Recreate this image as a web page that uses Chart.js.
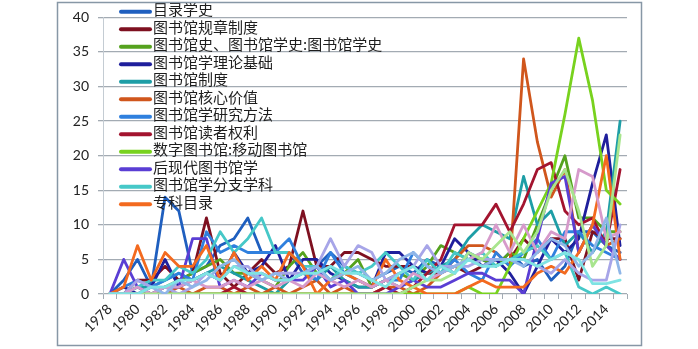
<!DOCTYPE html>
<html>
<head>
<meta charset="utf-8">
<script src="https://cdn.jsdelivr.net/npm/chart.js@4/dist/chart.umd.min.js"></script>
<style>
  html, body { margin: 0; padding: 0; background: #fff; }
  #wrap { position: relative; width: 698px; height: 349px; }
</style>
</head>
<body>
<div id="wrap"><canvas id="c" width="698" height="349"></canvas></div>
<script>
// Publication years (x axis categories)
const years = [1978,1979,1980,1981,1982,1983,1984,1985,1986,1987,
               1988,1989,1990,1991,1992,1993,1994,1995,1996,1997,
               1998,1999,2000,2001,2002,2003,2004,2005,2006,2007,
               2008,2009,2010,2011,2012,2013,2014,2015];

// Article counts per topic, one value per year
const muluxueshi   = [0,2,5,1,14,12,3,4,7,8, 11,6,6,6,3,4,6,4,3,2, 3,4,3,5,4,3,6,5,4,6, 4,5,2,4,9,9,7,6];
const guizhangzhidu= [0,0,2,2,4,2,3,11,3,1, 3,5,3,4,12,4,4,6,6,5, 4,4,4,3,3,4,3,4,5,5, 8,6,8,8,2,9,8,8];
const tushuguanshi = [0,0,1,0,1,2,3,4,5,3, 3,2,1,4,6,3,2,3,5,1, 2,3,2,4,7,6,5,5,4,6, 5,10,15,20,11,11,9,9];
const lilunjichu   = [0,1,0,1,5,1,2,3,2,6, 3,4,7,2,5,5,3,2,1,1, 6,6,4,3,4,8,6,4,5,3, 0,4,8,6,8,16,23,7];
const tushuguanzhidu=[0,0,1,1,2,3,2,3,4,3, 2,1,0,2,3,2,4,2,1,1, 2,1,2,3,4,5,8,10,9,8, 17,10,12,7,9,6,9,25];
const hexinjiazhi  = [0,0,0,0,0,1,0,1,1,0, 1,0,1,0,1,2,0,1,0,0, 1,1,0,1,3,5,7,7,6,4, 34,22,14,18,6,10,7,8];
const yanjiufangfa = [0,1,2,1,2,3,2,9,6,7, 6,6,6,8,4,2,6,3,2,1, 2,2,6,4,3,5,3,2,6,4, 6,8,5,9,9,7,6,5];
const duzhequanli  = [0,0,0,0,0,0,0,0,0,1, 0,0,0,0,0,0,0,0,0,0, 1,0,1,3,5,10,10,10,13,9, 13,18,19,12,10,11,7,18];
const shuzitushuguan=[0,0,0,0,0,0,0,0,0,0, 0,0,0,0,0,0,0,0,0,0, 0,0,0,0,0,0,1,0,0,4, 8,12,16,26,37,28,15,13];
const houxiandai    = [0,5,1,0,1,1,8,8,1,2, 1,3,2,2,2,4,1,2,0,0, 0,1,2,1,1,2,3,3,2,2, 0,8,16,17,6,10,7,5];
const fenzhixueke   = [0,0,1,2,2,4,3,5,9,6, 8,11,6,6,4,4,2,4,3,4, 6,4,2,5,3,6,5,6,4,5, 6,7,5,6,1,0,1,0];
const zhuankemulu   = [0,1,7,2,6,4,4,7,2,6, 2,4,2,6,4,0,2,3,2,1, 5,2,1,0,0,0,1,2,1,1, 1,3,4,3,6,10,20,5];
const series13      = [0,0,2,1,1,0,1,3,2,4, 4,2,3,3,3,4,8,4,7,6, 2,3,4,7,4,4,4,5,5,5, 5,4,3,5,3,2,2,10];
const series14      = [0,0,1,0,1,1,2,1,1,2, 1,2,1,2,1,3,2,1,2,1, 2,1,3,2,3,4,5,6,10,6, 10,6,9,8,18,17,8,9];
const series15      = [0,0,0,0,0,0,0,0,0,0, 0,0,0,0,0,0,0,0,0,0, 0,0,1,2,2,3,6,5,7,9, 6,9,15,18,12,4,7,23];
const series16      = [0,0,0,1,0,2,1,2,4,5, 3,2,3,2,3,4,2,3,4,2, 3,5,6,4,3,4,5,4,5,5, 4,6,8,7,4,6,11,3];
const series17      = [0,0,0,1,1,2,2,3,2,4, 3,3,2,2,3,3,4,3,3,2, 1,3,4,2,4,3,5,4,4,5, 5,4,5,6,5,1.5,1.5,2];

const seriesNames = ['目录学史','图书馆规章制度','图书馆史、图书馆学史:图书馆学史','图书馆学理论基础',
  '图书馆制度','图书馆核心价值','图书馆学研究方法','图书馆读者权利','数字图书馆:移动图书馆',
  '后现代图书馆学','图书馆学分支学科','专科目录','系列13','系列14','系列15','系列16','系列17'];
const seriesValues = [muluxueshi, guizhangzhidu, tushuguanshi, lilunjichu, tushuguanzhidu,
  hexinjiazhi, yanjiufangfa, duzhequanli, shuzitushuguan, houxiandai, fenzhixueke, zhuankemulu,
  series13, series14, series15, series16, series17];
const palette = ['#1f5fbf','#7e1020','#55a21e','#1f1f9c','#1e9ea6','#d0561c','#2f80de','#a3142f',
  '#78d21e','#5a3ed4','#46c8c8','#f36a1f','#a7a5e8','#d69acb','#a8e58e','#8fb6e8','#7fe3e3'];
const legendCount = 12;

const n = seriesValues.length;
const datasets = seriesValues.map((vals, i) => ({
  label: seriesNames[i],
  data: vals,
  borderColor: palette[i],
  backgroundColor: palette[i],
  order: n - i            // later series painted above earlier ones
}));

const FONT = 'Lato, "Open Sans", sans-serif';

// White page with a thin frame around the whole chart
const framePlugin = {
  id: 'frame',
  beforeDraw(chart) {
    const c = chart.ctx;
    c.save();
    c.fillStyle = '#ffffff';
    c.fillRect(0, 0, chart.width, chart.height);
    c.restore();
  },
  afterDraw(chart) {
    const c = chart.ctx;
    c.save();
    c.strokeStyle = '#8797a6';
    c.lineWidth = 1.5;
    c.strokeRect(57.5, 2.5, 584, 343);
    c.restore();
  }
};

// Legend list laid over the upper-left of the plot
const overlayLegend = {
  id: 'overlayLegend',
  afterDatasetsDraw(chart) {
    const c = chart.ctx;
    c.save();
    const x0 = 121, x1 = 150, tx = 153, y0 = 11.7, dy = 17.5;
    c.font = '15px "Noto Sans CJK SC", sans-serif';
    c.textBaseline = 'middle';
    c.textAlign = 'left';
    for (let i = 0; i < legendCount; i++) {
      const y = y0 + i * dy;
      c.strokeStyle = palette[i];
      c.lineWidth = 4;
      c.lineCap = 'round';
      c.beginPath();
      c.moveTo(x0, y);
      c.lineTo(x1, y);
      c.stroke();
      c.fillStyle = '#1e1e1e';
      c.fillText(seriesNames[i], tx, y - 2);
    }
    c.restore();
  }
};

new Chart(document.getElementById('c'), {
  type: 'line',
  data: { labels: years, datasets },
  options: {
    responsive: false,
    animation: false,
    devicePixelRatio: 1,
    layout: { padding: { left: 57, top: 12, right: 71, bottom: 0 } },
    plugins: { legend: { display: false }, tooltip: { enabled: false } },
    elements: {
      point: { radius: 0 },
      line: { borderWidth: 2.8, tension: 0, borderJoinStyle: 'round', borderCapStyle: 'round' }
    },
    scales: {
      x: {
        offset: true,
        grid: { offset: true, drawOnChartArea: false, drawTicks: true, tickLength: 5, color: '#a3abb3', lineWidth: 1 },
        border: { display: false },
        ticks: {
          autoSkip: false, maxRotation: 45, minRotation: 45, padding: 2,
          color: '#222', font: { family: FONT, size: 14 },
          callback: (v, i) => (i % 2 === 0 ? String(years[i]) : '')
        },
        afterFit(s) { s.height = 55; }
      },
      y: {
        min: 0, max: 40,
        ticks: { stepSize: 5, padding: 9, color: '#222', font: { family: FONT, size: 14 } },
        grid: { color: '#a3abb3', lineWidth: 1.3, tickLength: 5 },
        border: { display: true, color: '#c4ccd3', width: 1 },
        afterFit(s) { s.width = 46; }
      }
    }
  },
  plugins: [framePlugin, overlayLegend]
});
</script>
</body>
</html>
